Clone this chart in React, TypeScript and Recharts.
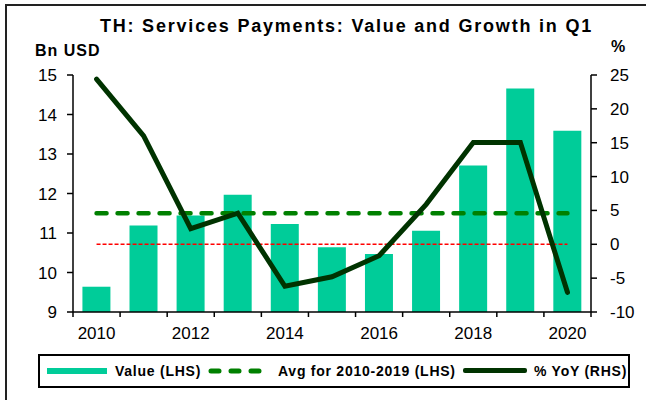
import { ComposedChart, Bar, Line, XAxis, YAxis } from 'recharts';

const years = ['2010', '2011', '2012', '2013', '2014', '2015', '2016', '2017', '2018', '2019', '2020'];
const valueBnUsd = [9.64, 11.19, 11.44, 11.97, 11.23, 10.64, 10.47, 11.06, 12.71, 14.66, 13.59];
const yoyPct = [24.4, 16.0, 2.3, 4.6, -6.2, -4.8, -1.7, 5.9, 15.05, 15.05, -7.1];
const AVG_2010_2019 = 11.5;
const leftTicks = [9, 10, 11, 12, 13, 14, 15];
const rightTicks = [-10, -5, 0, 5, 10, 15, 20, 25];
const legendLabels = ['Value (LHS)', 'Avg for 2010-2019 (LHS)', '% YoY (RHS)'];

const rows = years.map((year, i) => ({
  year,
  value: valueBnUsd[i],
  avg: AVG_2010_2019,
  zero: 0,
  yoy: yoyPct[i],
}));

const W = 646;
const H = 400;
const LEFT_W = 73;
const RIGHT_W = 55;
const BAND = (W - LEFT_W - RIGHT_W) / years.length;
const TICK_SIZE = 5;
const TICK_MARGIN = 10;

const TEAL = '#00CC99';
const AVG_GREEN = '#008000';
const DARK_GREEN = '#003300';

const YearTick = (props: any) => {
  const { x, y, payload, index } = props;
  const axisY = y - TICK_SIZE - TICK_MARGIN;
  const isLast = index === years.length - 1;
  const showLabel = Number(payload.value) % 2 === 0;
  return (
    <g>
      <line x1={x - BAND / 2} x2={x - BAND / 2} y1={axisY} y2={axisY + TICK_SIZE} stroke="#000" strokeWidth={1.5} />
      {isLast && (
        <line x1={x + BAND / 2} x2={x + BAND / 2} y1={axisY} y2={axisY + TICK_SIZE} stroke="#000" strokeWidth={1.5} />
      )}
      {showLabel && (
        <text x={x} y={y} dy="0.71em" textAnchor="middle" fontSize={17} fill="#000">
          {payload.value}
        </text>
      )}
    </g>
  );
};

const legendText = {
  position: 'absolute' as const,
  top: 364,
  fontSize: 14,
  lineHeight: '14px',
  fontWeight: 'bold' as const,
  letterSpacing: 0.75,
  whiteSpace: 'nowrap' as const,
};

export default function App() {
  return (
    <div
      style={{
        position: 'absolute',
        left: 0,
        top: 0,
        width: W,
        height: H,
        overflow: 'hidden',
        background: '#fff',
        fontFamily: '"Liberation Sans", Arial, sans-serif',
        color: '#000',
      }}
    >
      <div
        style={{
          position: 'absolute',
          left: 5,
          top: 4,
          width: 700,
          height: 500,
          border: '2px solid #222',
        }}
      />
      <div
        style={{
          position: 'absolute',
          left: 0,
          width: 693,
          top: 17,
          textAlign: 'center',
          fontSize: 18,
          lineHeight: '18px',
          fontWeight: 'bold',
          letterSpacing: 1.8,
          whiteSpace: 'nowrap',
        }}
      >
        TH: Services Payments: Value and Growth in Q1
      </div>
      <div style={{ position: 'absolute', left: 35, top: 43, fontSize: 16, lineHeight: '16px', fontWeight: 'bold', letterSpacing: 1 }}>
        Bn USD
      </div>
      <div style={{ position: 'absolute', left: 611, top: 39, fontSize: 16, lineHeight: '16px', fontWeight: 'bold' }}>%</div>

      <div style={{ position: 'absolute', left: 0, top: 0 }}>
        <ComposedChart
          width={W}
          height={H}
          data={rows}
          margin={{ top: 75, right: 0, bottom: 58, left: 0 }}
          barCategoryGap="20%"
        >
          <XAxis
            dataKey="year"
            height={30}
            interval={0}
            tickLine={false}
            tickSize={TICK_SIZE}
            tickMargin={TICK_MARGIN}
            axisLine={{ stroke: '#000', strokeWidth: 1.5 }}
            tick={YearTick}
          />
          <YAxis
            yAxisId="left"
            orientation="left"
            width={LEFT_W}
            domain={[9, 15]}
            ticks={leftTicks}
            allowDataOverflow
            tickSize={6}
            tickMargin={10}
            axisLine={{ stroke: '#000', strokeWidth: 1.5 }}
            tickLine={{ stroke: '#000', strokeWidth: 1.5 }}
            tick={{ fill: '#000', fontSize: 17 }}
          />
          <YAxis
            yAxisId="right"
            orientation="right"
            width={RIGHT_W}
            domain={[-10, 25]}
            ticks={rightTicks}
            tickSize={6}
            tickMargin={13}
            axisLine={{ stroke: '#000', strokeWidth: 1.5 }}
            tickLine={{ stroke: '#000', strokeWidth: 1.5 }}
            tick={{ fill: '#000', fontSize: 17 }}
          />
          <Bar yAxisId="left" dataKey="value" fill={TEAL} isAnimationActive={false} />
          <Line
            yAxisId="right"
            dataKey="zero"
            stroke="#FF0000"
            strokeWidth={1.5}
            strokeDasharray="4 2"
            dot={false}
            activeDot={false}
            isAnimationActive={false}
          />
          <Line
            yAxisId="left"
            dataKey="avg"
            stroke={AVG_GREEN}
            strokeWidth={4.5}
            strokeDasharray="10 11"
            strokeLinecap="round"
            dot={false}
            activeDot={false}
            isAnimationActive={false}
          />
          <Line
            yAxisId="right"
            type="linear"
            dataKey="yoy"
            stroke={DARK_GREEN}
            strokeWidth={5}
            strokeLinecap="round"
            dot={false}
            activeDot={false}
            isAnimationActive={false}
          />
        </ComposedChart>
      </div>

      <div
        style={{
          position: 'absolute',
          left: 38,
          top: 354,
          width: 592,
          height: 34,
          boxSizing: 'border-box',
          border: '2px solid #000',
          background: '#fff',
        }}
      />
      <div style={{ position: 'absolute', left: 47, top: 368, width: 60, height: 6, background: TEAL }} />
      <div style={{ ...legendText, left: 115 }}>{legendLabels[0]}</div>
      <svg style={{ position: 'absolute', left: 208, top: 366 }} width={62} height={10}>
        <line x1={3} x2={60} y1={5} y2={5} stroke={AVG_GREEN} strokeWidth={5} strokeDasharray="8 12" strokeLinecap="round" />
      </svg>
      <div style={{ ...legendText, left: 278 }}>{legendLabels[1]}</div>
      <div style={{ position: 'absolute', left: 463, top: 368, width: 64, height: 5, background: DARK_GREEN, borderRadius: 2 }} />
      <div style={{ ...legendText, left: 534 }}>{legendLabels[2]}</div>
    </div>
  );
}
